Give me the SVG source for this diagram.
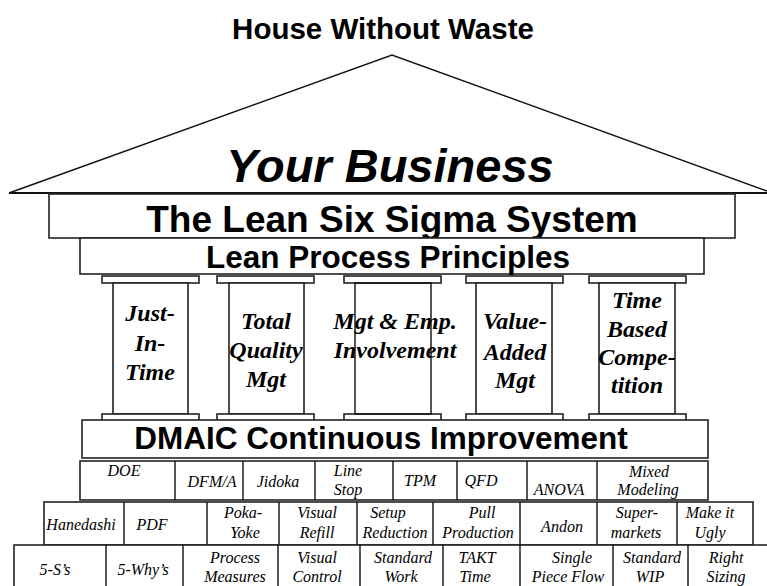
<svg xmlns="http://www.w3.org/2000/svg" width="767" height="586" viewBox="0 0 767 586">
<style>
.ln{fill:none;stroke:#111;stroke-width:1.4}
.bx{fill:#fff;stroke:#222;stroke-width:1.6}
.cap{fill:#fff;stroke:#222;stroke-width:1.6}
.h{font-family:"Liberation Sans",Arial,sans-serif;font-weight:bold;fill:#000;text-anchor:middle}
.p{font-family:"Liberation Serif","Times New Roman",serif;font-weight:bold;font-style:italic;font-size:24px;fill:#000;text-anchor:middle}
.t{font-family:"Liberation Serif","Times New Roman",serif;font-style:italic;font-size:16px;fill:#000;text-anchor:middle}
</style>
<rect width="767" height="586" fill="#fff"/>
<text class="h" x="383" y="39" font-size="29.5">House Without Waste</text>
<g id="roof">
<polyline class="ln" points="9,193 392,55 767,191"/>
<line x1="9" y1="193" x2="767" y2="193" stroke="#111" stroke-width="2"/>
<text class="h" x="390" y="182" font-size="47" font-style="italic">Your Business</text>
</g>
<g id="lss">
<rect class="bx" x="49" y="194" width="686" height="44"/>
<text class="h" x="392" y="232" font-size="37">The Lean Six Sigma System</text>
</g>
<g id="lpp">
<rect class="bx" x="80" y="238" width="624" height="36"/>
<text class="h" x="388" y="268" font-size="31.5">Lean Process Principles</text>
</g>
<g id="pillar1">
<rect class="cap" x="102" y="276" width="97" height="7"/>
<rect class="bx" x="113" y="283" width="75" height="131"/>
<rect class="cap" x="102" y="414" width="97" height="7"/>
<text class="p" x="150" y="321">Just-</text>
<text class="p" x="150" y="351">In-</text>
<text class="p" x="150" y="380">Time</text>
</g>
<g id="pillar2">
<rect class="cap" x="217" y="276" width="97" height="7"/>
<rect class="bx" x="229" y="283" width="75" height="131"/>
<rect class="cap" x="217" y="414" width="97" height="7"/>
<text class="p" x="266" y="329">Total</text>
<text class="p" x="266" y="358">Quality</text>
<text class="p" x="266" y="387">Mgt</text>
</g>
<g id="pillar3">
<rect class="cap" x="344" y="276" width="97" height="7"/>
<rect class="cap" x="344" y="414" width="97" height="7"/>
<text class="p" x="395" y="329">Mgt &amp; Emp.</text>
<text class="p" x="395" y="358">Involvement</text>
<rect class="ln" x="355" y="283" width="76" height="131"/>
</g>
<g id="pillar4">
<rect class="cap" x="466" y="276" width="97" height="7"/>
<rect class="bx" x="476" y="283" width="76" height="131"/>
<rect class="cap" x="466" y="414" width="97" height="7"/>
<text class="p" x="515" y="329">Value-</text>
<text class="p" x="515" y="360">Added</text>
<text class="p" x="515" y="388">Mgt</text>
</g>
<g id="pillar5">
<rect class="cap" x="589" y="276" width="97" height="7"/>
<rect class="bx" x="599" y="283" width="76" height="131"/>
<rect class="cap" x="589" y="414" width="97" height="7"/>
<text class="p" x="637" y="308">Time</text>
<text class="p" x="637" y="337">Based</text>
<text class="p" x="637" y="365">Compe-</text>
<text class="p" x="637" y="393">tition</text>
</g>
<g id="dmaic">
<rect class="bx" x="82" y="420" width="626" height="38"/>
<text class="h" x="381" y="449" font-size="31.5">DMAIC Continuous Improvement</text>
</g>
<g id="row1">
<rect class="bx" x="80" y="461" width="628" height="39"/>
<path class="ln" d="M175 461V500M243 461V500M315 461V500M393 461V500M457 461V500M527 461V500M597 461V500"/>
<text class="t" x="124" y="476">DOE</text>
<text class="t" x="212" y="487">DFM/A</text>
<text class="t" x="278" y="487">Jidoka</text>
<text class="t" x="348" y="476">Line</text>
<text class="t" x="348" y="495">Stop</text>
<text class="t" x="420" y="486">TPM</text>
<text class="t" x="481" y="486">QFD</text>
<text class="t" x="559" y="495">ANOVA</text>
<text class="t" x="649" y="477">Mixed</text>
<text class="t" x="648" y="495">Modeling</text>
</g>
<g id="row2">
<rect class="bx" x="44" y="502" width="709" height="43"/>
<path class="ln" d="M124 502V547M207 502V545M279 502V545M357 502V545M433 502V545M520 502V545M597 502V545M677 502V545"/>
<text class="t" x="81" y="530">Hanedashi</text>
<text class="t" x="152" y="530">PDF</text>
<text class="t" x="243" y="518">Poka-</text>
<text class="t" x="245" y="538">Yoke</text>
<text class="t" x="317" y="518">Visual</text>
<text class="t" x="317" y="538">Refill</text>
<text class="t" x="388" y="518">Setup</text>
<text class="t" x="395" y="538">Reduction</text>
<text class="t" x="482" y="518">Pull</text>
<text class="t" x="478" y="538">Production</text>
<text class="t" x="562" y="532">Andon</text>
<text class="t" x="637" y="518">Super-</text>
<text class="t" x="636" y="538">markets</text>
<text class="t" x="710" y="518">Make it</text>
<text class="t" x="710" y="538">Ugly</text>
</g>
<g id="row3">
<rect class="bx" x="14" y="545" width="760" height="50"/>
<path class="ln" d="M106 545V590M183 545V590M278 545V590M360 545V590M443 545V590M520 545V590M613 545V590M688 545V590"/>
<text class="t" x="55" y="575">5-S’s</text>
<text class="t" x="143" y="575">5-Why’s</text>
<text class="t" x="235" y="563">Process</text>
<text class="t" x="235" y="582">Measures</text>
<text class="t" x="317" y="563">Visual</text>
<text class="t" x="317" y="582">Control</text>
<text class="t" x="403" y="563">Standard</text>
<text class="t" x="401" y="582">Work</text>
<text class="t" x="477" y="563">TAKT</text>
<text class="t" x="475" y="582">Time</text>
<text class="t" x="572" y="563">Single</text>
<text class="t" x="568" y="582">Piece Flow</text>
<text class="t" x="652" y="563">Standard</text>
<text class="t" x="650" y="582">WIP</text>
<text class="t" x="726" y="563">Right</text>
<text class="t" x="726" y="582">Sizing</text>
</g>
</svg>
